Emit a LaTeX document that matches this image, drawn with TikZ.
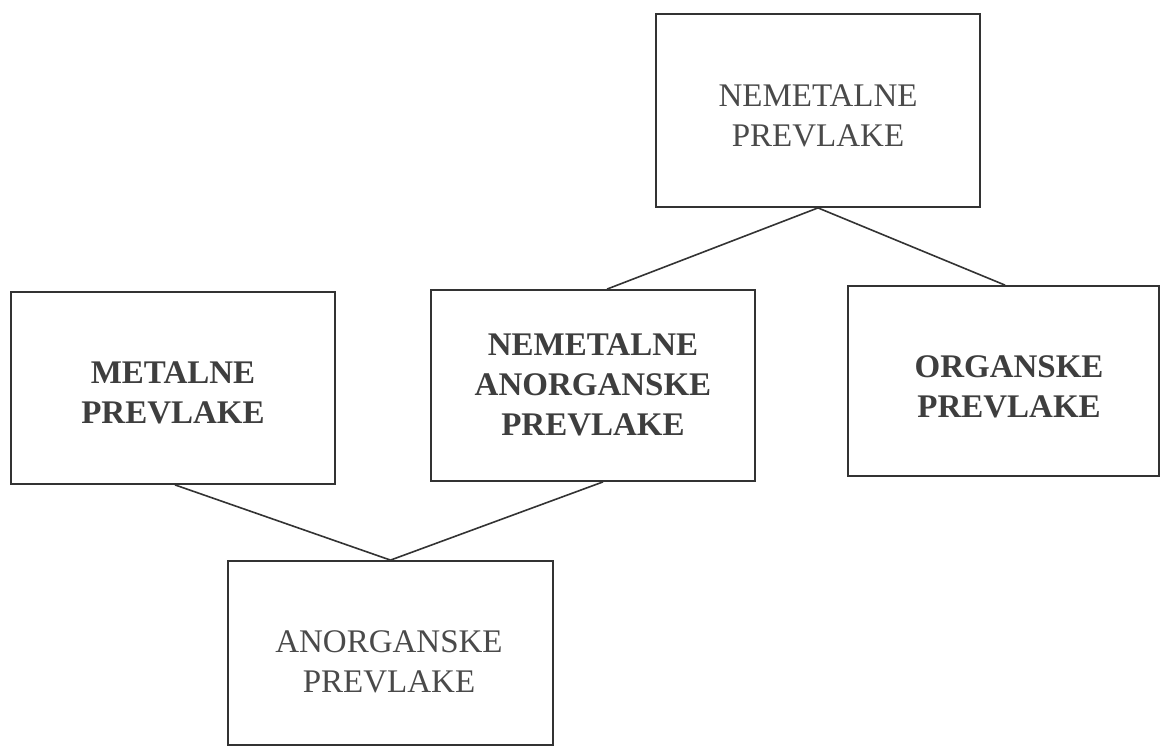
\documentclass[tikz,border=0pt]{standalone}
\usepackage{fontspec}
\setmainfont{Liberation Serif}
\definecolor{linec}{HTML}{333333}
\definecolor{txtc}{HTML}{4A4A4A}
\definecolor{bldc}{HTML}{3E3E3E}
\begin{document}
\begin{tikzpicture}[x=1pt,y=-1pt,
  box/.style={draw=linec, line width=1.8pt, rectangle, inner sep=0pt},
  reg/.style={text=txtc, font=\fontsize{33}{40}\selectfont, align=center, inner sep=0pt},
  bld/.style={text=bldc, font=\fontsize{33}{40}\selectfont\bfseries, align=center, inner sep=0pt},
  link/.style={draw=linec, line width=1.6pt}]
\clip (0,0) rectangle (1161,747);
\fill[white] (0,0) rectangle (1161,747);
% boxes
\node[box, minimum width=324pt, minimum height=193pt] (top) at (818,110.5) {};
\node[box, minimum width=324pt, minimum height=192pt] (met) at (173,388) {};
\node[box, minimum width=324pt, minimum height=191pt] (nap) at (593,385.5) {};
\node[box, minimum width=311pt, minimum height=190pt] (org) at (1003.5,381) {};
\node[box, minimum width=325pt, minimum height=184pt] (ano) at (390.5,653) {};
% texts
\node[reg] (topt) at (818,116) {NEMETALNE\\PREVLAKE};
\node[bld] (mett) at (173,393) {METALNE\\PREVLAKE};
\node[bld] (napt) at (593,384.5) {NEMETALNE\\ANORGANSKE\\PREVLAKE};
\node[bld] (orgt) at (1009,387) {ORGANSKE\\PREVLAKE};
\node[reg] (anot) at (389,662) {ANORGANSKE\\PREVLAKE};
% connectors
\draw[link] (top.south) -- ([xshift=14pt]nap.north);
\draw[link] (top.south) -- ([xshift=1.5pt]org.north);
\draw[link] ([xshift=2pt]met.south) -- (ano.north);
\draw[link] ([xshift=10pt]nap.south) -- (ano.north);
\end{tikzpicture}
\end{document}
